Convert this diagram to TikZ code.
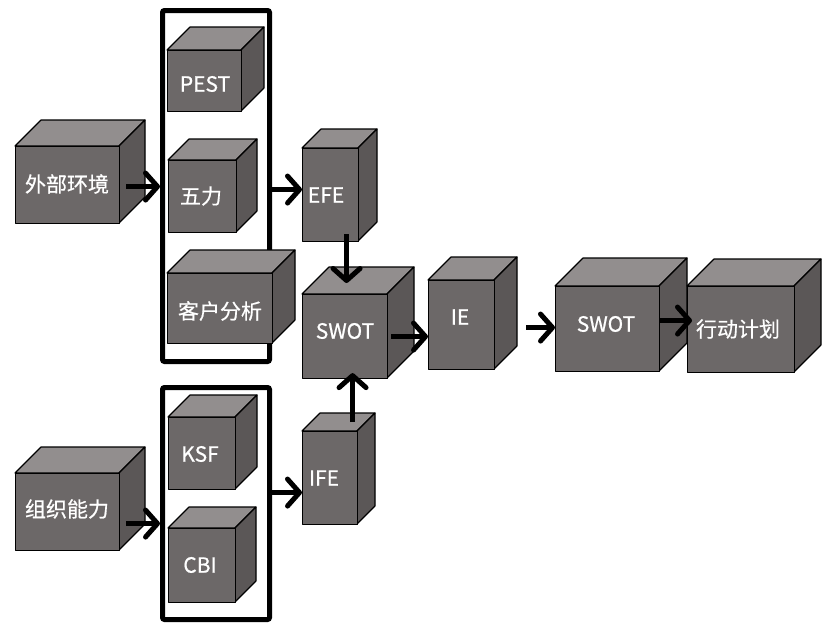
\documentclass[tikz,border=0pt]{standalone}
\usepackage{fontspec}
\setmainfont{Noto Sans CJK SC}
\newfontfamily\lblfont[FakeBold=0.6]{Noto Sans CJK SC}
\usetikzlibrary{arrows.meta,calc}
\definecolor{frontc}{HTML}{6C6868}
\definecolor{topc}{HTML}{928E8E}
\definecolor{sidec}{HTML}{5B5757}
\tikzset{
  edge/.style={draw=black,line width=1.1pt,line join=round},
  frontface/.style={edge,fill=frontc,inner sep=0pt,anchor=north west},
  label/.style={text=white,font=\lblfont\fontsize{21}{25}\selectfont,inner sep=0pt},
  groupframe/.style={draw=black,line width=5pt,rounded corners=2pt,inner sep=0pt},
  arr/.style={line width=5pt,-{Straight Barb[length=12pt,width=27pt,round]}}
}
% name, x1, y1, x2, y2, depth, text x, text y, text
\newcommand\mycube[9]{%
  \fill[edge,fill=topc] (#2,#3) -- ++(#6,-#6) -- ({#4+#6},{#3-#6}) -- (#4,#3) -- cycle;
  \fill[edge,fill=sidec] (#4,#3) -- ({#4+#6},{#3-#6}) -- ({#4+#6},{#5-#6}) -- (#4,#5) -- cycle;
  \node[frontface,minimum width={(#4-#2)*1pt},minimum height={(#5-#3)*1pt}] (#1) at (#2,#3) {};
  \node[label] (#1-t) at (#7,#8) {#9};
}
\begin{document}
\begin{tikzpicture}[x={(1pt,0)},y={(0,-1pt)}]
\useasboundingbox[fill=white] (0,0) rectangle (829,632);
% group frames
\node[groupframe,minimum width=107pt,minimum height=351pt] (frame1) at (216,186) {};
\node[groupframe,minimum width=107pt,minimum height=232pt] (frame2) at (216,503.5) {};
% cubes
\mycube{ext}{15}{146}{119}{223}{26}{67}{184}{外部环境}
\mycube{pest}{167}{50}{241}{111}{23}{205}{84}{PEST}
\mycube{wuli}{168}{160}{236}{232}{21}{201}{196}{五力}
\mycube{kehu}{167}{273}{272}{343}{23}{220}{311}{客户分析}
\mycube{org}{15}{473}{119}{550}{26}{67}{509}{组织能力}
\mycube{ksf}{168}{417}{235}{489}{22}{200}{454}{KSF}
\mycube{cbi}{168}{528}{235}{602}{21}{200}{565}{CBI}
\mycube{efe}{302}{148}{358}{241}{19}{326}{195}{EFE}
\mycube{ife}{302}{431}{357}{524}{18}{324}{478}{IFE}
\mycube{swotA}{302}{294}{387}{378}{27}{345}{331}{SWOT}
\mycube{ie}{428}{280}{494}{369}{23}{460}{317}{IE}
\mycube{swotB}{555}{286}{659}{371}{28}{606}{324}{SWOT}
\mycube{act}{687}{286}{794}{372}{27}{738}{329}{行动计划}
% connectors
\draw[arr] ([xshift=6pt,yshift=-1.5pt]ext.east) -- ([yshift=-1.5pt]ext.east -| frame1.west);
\draw[arr] ([xshift=-4pt,yshift=5.5pt]efe.west -| frame1.east) -- ([yshift=5.5pt]efe.west);
\draw[arr] ([xshift=16pt,yshift=8pt]efe.south) -- ([xshift=1.5pt,yshift=11pt]swotA.north);
\draw[arr] ([xshift=3pt]swotA.east) -- (swotA.east -| ie.west);
\draw[arr] ([xshift=22.5pt,yshift=9pt]ife.north) -- ([xshift=22.5pt,yshift=6pt]ife.north |- swotA.south);
\draw[arr] ([xshift=31pt,yshift=-2.5pt]ie.east) -- ([yshift=-2.5pt]ie.east -| swotB.west);
\draw[arr] ([yshift=8.5pt]swotB.east) -- ([xshift=5pt,yshift=8.5pt]swotB.east -| act.west);
\draw[arr] ([xshift=6pt,yshift=-11.5pt]org.east) -- ([yshift=-11.5pt]org.east -| frame2.west);
\draw[arr] ([xshift=-4pt,yshift=-14.5pt]ife.west -| frame2.east) -- ([yshift=-14.5pt]ife.west);
\end{tikzpicture}
\end{document}
